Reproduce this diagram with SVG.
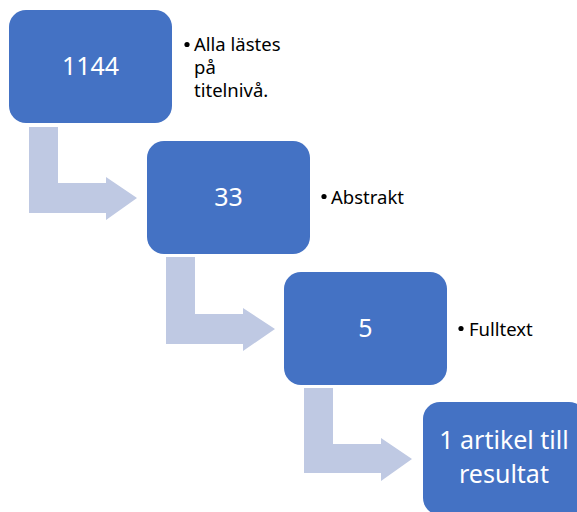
<svg xmlns="http://www.w3.org/2000/svg" width="577" height="512" viewBox="0 0 577 512">
<style>
.box{fill:#4472C4;}
.arr{fill:#BFC9E3;}
.lbl{font-family:"Noto Sans","Open Sans",sans-serif;font-size:25px;fill:#FFFFFF;text-anchor:middle;}
.note{font-family:"Noto Sans","Open Sans",sans-serif;font-size:18.5px;fill:#000000;}
.dot{fill:#000000;}
</style>
<rect width="577" height="512" fill="#FFFFFF"/>
<g id="connectors">
<path class="arr" d="M29,127 H58 V183 H106 V177 L137,198 L106,220 V213 H29 Z"/>
<path class="arr" d="M166,257 H195 V314 H243 V308 L275,329 L243,351 V344 H166 Z"/>
<path class="arr" d="M304,388 H333 V444 H381 V438 L412,459 L381,481 V473 H304 Z"/>
</g>
<g id="n1">
<rect class="box" x="9" y="10" width="163" height="113" rx="17"/>
<text class="lbl" x="90.5" y="75">1144</text>
<circle class="dot" cx="187" cy="44.5" r="2.6"/>
<text class="note"><tspan x="194" y="50.5">Alla lästes</tspan><tspan x="194" y="73.5">på</tspan><tspan x="194" y="96.5">titelnivå.</tspan></text>
</g>
<g id="n2">
<rect class="box" x="147" y="141" width="163" height="113" rx="17"/>
<text class="lbl" x="228.5" y="206">33</text>
<circle class="dot" cx="324" cy="196.5" r="2.6"/>
<text class="note" x="331" y="203.5">Abstrakt</text>
</g>
<g id="n3">
<rect class="box" x="284" y="272" width="163" height="113" rx="17"/>
<text class="lbl" x="365.5" y="337">5</text>
<circle class="dot" cx="461" cy="328.5" r="2.6"/>
<text class="note" x="469" y="336">Fulltext</text>
</g>
<g id="n4">
<rect class="box" x="423" y="402" width="163" height="113" rx="17"/>
<text class="lbl"><tspan x="504" y="448.5">1 artikel till</tspan><tspan x="504" y="482.5">resultat</tspan></text>
</g>
</svg>
